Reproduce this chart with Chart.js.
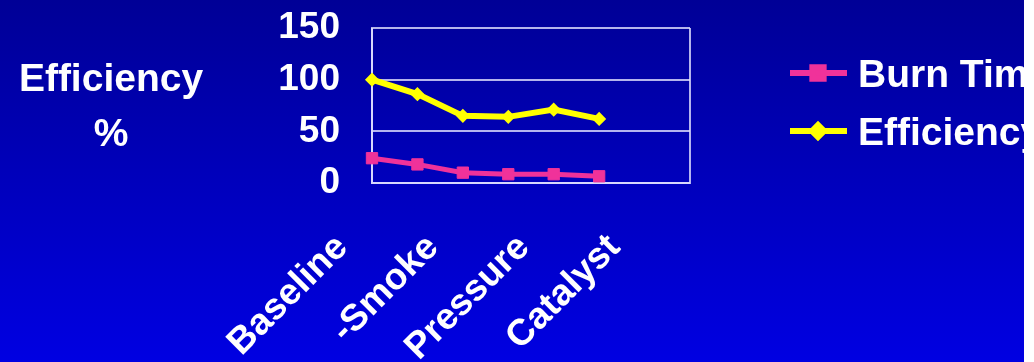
<!DOCTYPE html>
<html>
<head>
<meta charset="utf-8">
<script src="https://cdn.jsdelivr.net/npm/chart.js@4/dist/chart.umd.min.js"></script>
<style>
  html, body { margin: 0; padding: 0; background: #ffffff; overflow: hidden; }
  #wrap {
    position: absolute; left: 0; top: 0; width: 1024px; height: 362px;
    background: linear-gradient(to bottom, #000096 0%, #0000c0 55%, #0000e2 100%);
  }
</style>
</head>
<body>
<div id="wrap"><canvas id="c" width="1024" height="362"></canvas></div>
<script>
// Test stages along the category axis (only every other slot carries a name)
const categories = ['Baseline', '', '-Smoke', '', 'Pressure', '', 'Catalyst', ''];
// Measured series
const burnTime   = [24, 18, 10, 8.5, 8.5, 6.5];
const efficiency = [100, 86, 65, 64, 71, 62];
const seriesNames = ['Burn Time', 'Efficiency'];
// Value axis
const yTicks = [0, 50, 100, 150];
const axisTitle = ['Efficiency', '%'];

const FONT = '"Liberation Sans", Arial, Helvetica, sans-serif';
const PINK = '#f0329a';
const YELLOW = '#ffff00';
const GRID = 'rgba(225,225,255,0.8)';

Chart.defaults.font.family = FONT;

// Horizontal axis caption on the left and a line+marker legend on the right
const sideText = {
  id: 'sideText',
  afterDraw(chart) {
    const ctx = chart.ctx;
    ctx.save();
    ctx.fillStyle = '#ffffff';
    ctx.font = 'bold 39px ' + FONT;
    ctx.textAlign = 'center';
    ctx.textBaseline = 'middle';
    ctx.fillText(axisTitle[0], 111, 80);
    ctx.fillText(axisTitle[1], 111, 135);

    const rows = [73, 131];
    chart.data.datasets.forEach((ds, i) => {
      const y = rows[i];
      ctx.strokeStyle = ds.borderColor;
      ctx.lineWidth = 6;
      ctx.lineCap = 'butt';
      ctx.beginPath();
      ctx.moveTo(790, y);
      ctx.lineTo(847, y);
      ctx.stroke();
      ctx.fillStyle = ds.pointBackgroundColor;
      ctx.strokeStyle = ds.pointBorderColor;
      Chart.helpers.drawPoint(ctx, {
        pointStyle: ds.pointStyle,
        radius: ds.pointRadius,
        borderWidth: ds.pointBorderWidth,
        rotation: 0
      }, 818, y);
      ctx.fillStyle = '#ffffff';
      ctx.textAlign = 'left';
      ctx.textBaseline = 'middle';
      ctx.fillText(ds.label, 858, y + 3);
    });
    ctx.restore();
  }
};

new Chart(document.getElementById('c'), {
  type: 'line',
  data: {
    labels: categories,
    datasets: [
      {
        label: seriesNames[0],
        data: burnTime,
        borderColor: PINK,
        backgroundColor: PINK,
        pointBackgroundColor: PINK,
        pointBorderColor: PINK,
        borderWidth: 5,
        pointStyle: 'rect',
        pointRadius: 8,
        pointBorderWidth: 1,
        tension: 0,
        clip: false
      },
      {
        label: seriesNames[1],
        data: efficiency,
        borderColor: YELLOW,
        backgroundColor: YELLOW,
        pointBackgroundColor: YELLOW,
        pointBorderColor: YELLOW,
        borderWidth: 6,
        pointStyle: 'rectRot',
        pointRadius: 6,
        pointBorderWidth: 1.5,
        tension: 0,
        clip: false
      }
    ]
  },
  options: {
    responsive: false,
    animation: false,
    devicePixelRatio: 1,
    layout: { padding: { top: 28, right: 334, bottom: 0, left: 0 } },
    plugins: {
      legend: { display: false },
      tooltip: { enabled: false }
    },
    scales: {
      x: {
        type: 'category',
        offset: false,
        afterFit: s => { s.height = 179; },
        grid: {
          drawTicks: false,
          lineWidth: 2,
          color: c => (c.index === 0 || c.index === categories.length - 1) ? GRID : 'rgba(0,0,0,0)'
        },
        border: { display: true, color: GRID, width: 2 },
        ticks: {
          autoSkip: false,
          minRotation: 45,
          maxRotation: 45,
          padding: 43,
          labelOffset: -30,
          color: '#ffffff',
          font: { size: 37, weight: 'bold' }
        }
      },
      y: {
        min: yTicks[0],
        max: yTicks[yTicks.length - 1],
        afterFit: s => { s.width = 372; s.paddingTop = 0; s.paddingBottom = 0; },
        afterBuildTicks: s => { s.ticks = yTicks.map(v => ({ value: v })); },
        grid: { drawTicks: false, lineWidth: 2, color: GRID },
        border: { display: true, color: GRID, width: 2 },
        ticks: {
          autoSkip: false,
          padding: 32,
          color: '#ffffff',
          font: { size: 37, weight: 'bold' }
        }
      }
    }
  },
  plugins: [sideText]
});
</script>
</body>
</html>
